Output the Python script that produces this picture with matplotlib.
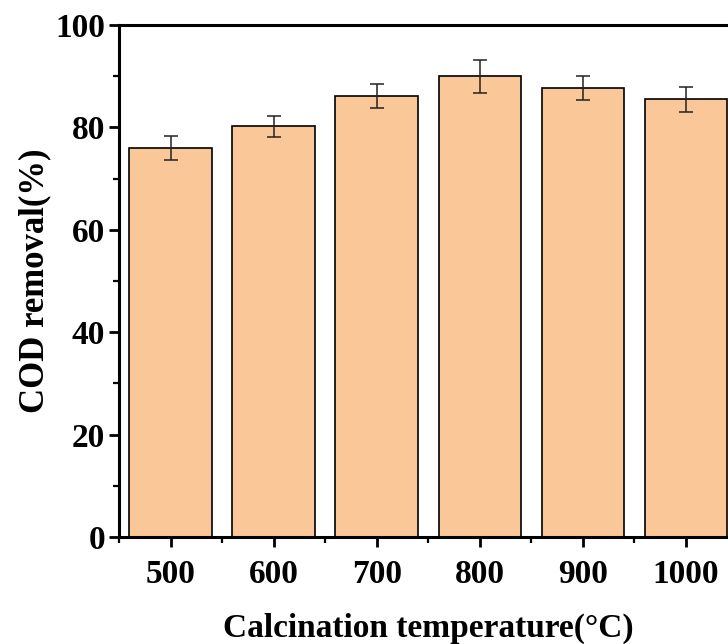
import matplotlib
matplotlib.use("Agg")
import matplotlib.pyplot as plt
from matplotlib.ticker import MultipleLocator

temperatures = [500, 600, 700, 800, 900, 1000]
cod_removal = [76.0, 80.2, 86.1, 90.0, 87.7, 85.5]
cod_error = [2.3, 2.05, 2.35, 3.2, 2.3, 2.45]
tick_labels = ["500", "600", "700", "800", "900", "1000"]

plt.rcParams["font.family"] = ["Liberation Serif", "DejaVu Serif"]
plt.rcParams["font.weight"] = "bold"

fig = plt.figure(figsize=(7.28, 6.44), dpi=100)
ax = fig.add_axes([119 / 728, 107 / 644, 618.5 / 728, 512 / 644])

ax.bar(temperatures, cod_removal, width=80, color="#FAC898",
       edgecolor="black", linewidth=1.2, zorder=2)
ax.errorbar(temperatures, cod_removal, yerr=cod_error, fmt="none",
            ecolor="#222222", elinewidth=1.1, capsize=5, capthick=1.1, zorder=3)

ax.set_xlim(450, 1050)
ax.set_ylim(0, 100)
ax.set_xticks(temperatures)
ax.set_xticklabels(tick_labels)
ax.set_xticks([450, 550, 650, 750, 850, 950, 1050], minor=True)
ax.yaxis.set_major_locator(MultipleLocator(20))
ax.yaxis.set_minor_locator(MultipleLocator(10))

for s in ax.spines.values():
    s.set_linewidth(2.2)

ax.tick_params(axis="both", which="major", direction="out", length=7, width=2,
               labelsize=24)
ax.tick_params(axis="y", which="major", pad=3)
ax.tick_params(axis="x", which="major", pad=9)
ax.tick_params(axis="both", which="minor", direction="out", length=4, width=1.6)
ax.tick_params(axis="y", which="both", right=False)
ax.tick_params(axis="x", which="both", top=False)
for lbl in ax.get_xticklabels() + ax.get_yticklabels():
    lbl.set_fontweight("bold")

ax.set_xlabel("Calcination temperature(\u00b0C)", fontsize=24, fontweight="bold",
              labelpad=16)
ax.set_ylabel("COD removal(%)", fontsize=25, fontweight="bold", labelpad=3)

fig.savefig("out.png", dpi=100)
